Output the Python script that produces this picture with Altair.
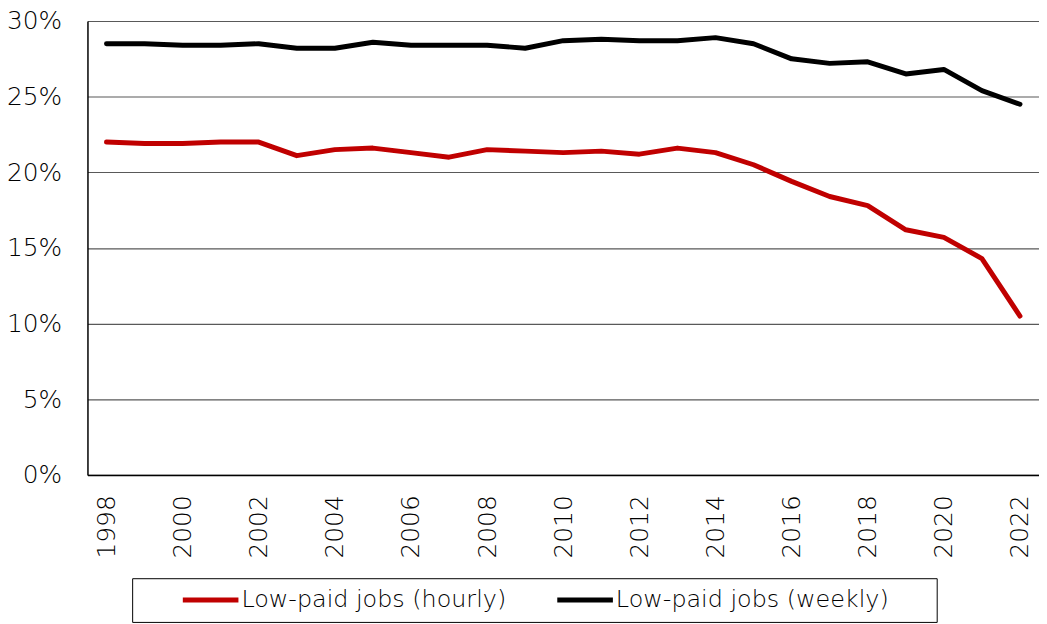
import altair as alt
import pandas as pd

years = list(range(1998, 2023))
hourly = [22.0, 21.9, 21.9, 22.0, 22.0, 21.1, 21.5, 21.6, 21.3, 21.0, 21.5, 21.4, 21.3,
          21.4, 21.2, 21.6, 21.3, 20.5, 19.4, 18.4, 17.8, 16.2, 15.7, 14.3, 10.5]
weekly = [28.5, 28.5, 28.4, 28.4, 28.5, 28.2, 28.2, 28.6, 28.4, 28.4, 28.4, 28.2, 28.7,
          28.8, 28.7, 28.7, 28.9, 28.5, 27.5, 27.2, 27.3, 26.5, 26.8, 25.4, 24.5]
series_names = ["Low-paid jobs (hourly)", "Low-paid jobs (weekly)"]
series_colors = ["#C00000", "#000000"]
y_ticks = [0, 5, 10, 15, 20, 25, 30]
x_labels = [y for y in years if y % 2 == 0]

rows = []
for yr, h, w in zip(years, hourly, weekly):
    rows.append({"year": yr, "series": series_names[0], "value": h})
    rows.append({"year": yr, "series": series_names[1], "value": w})
df = pd.DataFrame(rows)

FONT = "DejaVu Sans"
FW = 300

chart = alt.Chart(df).mark_line(strokeWidth=5, strokeCap="round", strokeJoin="round").encode(
    x=alt.X("year:O", title=None,
            scale=alt.Scale(paddingInner=1, paddingOuter=0.5),
            axis=alt.Axis(values=x_labels, labelAngle=270, labelAlign="right",
                          labelBaseline="middle", labelPadding=20, ticks=False,
                          labelFontSize=25, labelFont=FONT, labelFontWeight=FW,
                          labelColor="#000000",
                          domainColor="#000000", domainWidth=1.5, grid=False)),
    y=alt.Y("value:Q", title=None,
            scale=alt.Scale(domain=[0, 30], nice=False),
            axis=alt.Axis(values=y_ticks, labelExpr="datum.value + '%'",
                          labelPadding=26, ticks=False, labelFontSize=25,
                          labelFont=FONT, labelFontWeight=FW, labelColor="#000000",
                          domainColor="#000000", domainWidth=1.5,
                          gridColor="#595959", gridWidth=1.2)),
    color=alt.Color("series:N",
                    scale=alt.Scale(domain=series_names, range=series_colors),
                    legend=alt.Legend(title="\u00a0", titleOrient="right",
                                      titlePadding=38, titleFontSize=12,
                                      orient="none", legendX=45, legendY=561,
                                      direction="horizontal",
                                      symbolType="M-5.6,0H5.6",
                                      symbolSize=100, symbolStrokeWidth=5,
                                      symbolOffset=57, columnPadding=10,
                                      labelOffset=19,
                                      labelFontSize=24, labelFont=FONT,
                                      labelFontWeight=FW,
                                      labelColor="#000000", labelLimit=400,
                                      strokeColor="#000000", padding=10)),
).properties(
    width=958, height=457,
    autosize=alt.AutoSizeParams(type="none"),
    padding={"left": 80, "top": 11, "right": 0, "bottom": 148},
).configure_view(stroke=None)

chart.save("out.html", embed_options={"renderer": "svg", "actions": False})
